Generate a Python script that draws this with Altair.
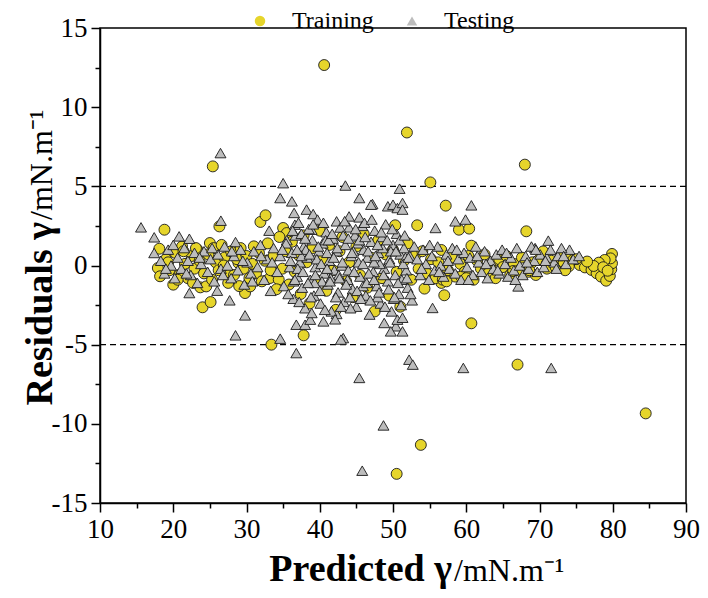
import altair as alt
import pandas as pd

# ---------------- data ----------------
train_x = [40.6, 51.9, 55.1, 68.0, 25.4, 57.2, 50.3, 53.3, 59.0, 60.4, 68.2, 60.7, 56.6, 54.3, 57.0,
           56.6, 60.7, 67.0, 79.9, 70.5, 84.5, 53.8, 50.5, 18.8, 26.3, 31.9, 32.6, 24.0, 25.1, 33.4,
           37.8, 29.8, 20.0, 17.9, 18.2, 18.1, 23.7, 24.5, 27.4, 30.5, 33.2, 34.4, 35.0, 35.5, 28.9,
           25.0, 25.5, 31.0,
           19.0, 19.5, 20.3, 20.8, 21.2, 21.6, 22.0, 22.5, 22.9, 23.3, 23.6, 24.2, 24.8, 25.3, 25.8,
           26.2, 26.6, 27.0, 27.5, 27.9, 28.3, 28.7, 29.2, 29.6, 30.0, 30.4, 30.8, 31.3, 31.7, 32.1,
           32.5, 32.9, 33.3, 33.7, 34.1, 34.5, 34.9, 35.3, 35.8, 36.2, 36.6, 37.0, 37.4, 37.8, 38.2,
           38.6, 39.0, 39.5, 40.0, 40.4, 40.9, 41.3, 41.8, 42.2, 42.7, 43.1, 43.6, 44.0, 44.5, 45.0,
           45.5, 46.0, 46.5, 47.0, 47.5, 48.0, 48.5, 49.0, 49.5, 50.0, 50.5, 51.0, 51.5, 52.0, 52.5,
           53.0, 53.5, 54.0, 54.6, 55.2, 55.8, 56.2, 57.5, 58.0, 58.5, 59.2, 59.8, 60.3, 61.0, 61.5,
           62.0, 62.5, 63.0, 63.6, 64.0, 64.5, 65.0, 65.5, 66.0, 66.5, 67.2, 67.6, 68.5, 69.0, 69.5,
           70.0, 71.0, 71.6, 72.2, 72.8, 73.3, 73.9, 74.6, 75.5, 76.2, 77.1, 77.8, 78.4, 79.1, 79.6,
           79.8, 79.9, 79.7, 78.9, 78.1, 77.4, 78.7, 79.3, 76.5, 75.0, 74.0, 73.5, 59.3, 60.0, 66.4,
           67.5, 68.6, 56.8, 57.3, 21.4, 22.7, 23.1, 26.9, 29.0, 19.3, 20.6]
train_y = [12.66, 8.4, 5.25, 6.37, 6.26, 3.78, 2.54, 2.54, 2.26, 2.33, 2.16, 1.25, 0.98, -1.46, -1.88,
           -1.1, -3.65, -6.26, 0.73, 0.89, -9.34, -11.33, -13.16, 2.26, 2.47, 2.75, 3.17, -2.64, -2.31, -5.0,
           -4.41, -1.74, -1.21, -0.16, -0.68, 1.06, -1.38, -1.32, -0.47, -1.32, -0.79, -0.89, 2.37, 2.05, 0.16,
           1.42, 1.1, 1.21,
           0.4, -0.3, 0.8, -0.6, 1.2, 0.1, -0.8, 0.6, -0.2, 1.0, 0.3, -0.5, 0.7, -0.9, 0.2,
           -0.3, 1.3, 0.5, -1.1, 0.9, -0.6, 0.4, 1.1, -0.2, 0.6, -0.8, 0.1, -0.5, 0.8, -1.0,
           0.3, 1.4, -0.3, 0.6, -1.5, 1.8, -0.2, 0.9, -1.2, 1.5, -0.4, 0.7, -1.8, 1.9, 0.2,
           -2.4, 1.1, -0.9, 2.2, 0.4, -1.6, 1.3, -0.3, -2.8, 0.9, 1.8, -1.0, 0.2, -2.0, 1.2,
           -0.6, 2.0, -1.4, 0.5, -2.9, 1.6, -0.8, 0.7, -1.9, 1.0, -0.4, -2.6, 0.3, 1.4, -0.9,
           0.6, -0.2, 0.9, -0.5, 0.4, -0.8, 0.2, -0.3, 0.5, -0.7, 0.1, -0.4, 0.6, -0.9, 0.3,
           -0.2, 0.7, -0.5, 0.2, -0.8, 0.4, -0.1, 0.6, -0.6, 0.1, -0.3, 0.5, -0.4, 0.2, -0.6,
           0.4, -0.2, 0.3, -0.1, 0.5, 0.2, 0.6, 0.35, 0.03, -0.12, -0.28, -0.49, -0.7, -0.96, -0.66,
           -0.24, 0.14, 0.45, 0.35, 0.18, -0.03, -0.11, -0.33, 0.25, 0.4, -0.05, -0.3, -0.7, -0.8, -0.35,
           -0.4, -0.3, -0.9, -1.0, 0.9, -1.1, 1.1, 0.0, -1.3, 0.2, -0.9]

test_x = [26.45, 35.0, 43.5, 50.9, 45.4, 47.2, 49.3, 50.0, 50.6, 51.3, 51.3, 60.7, 45.4, 58.5, 59.9,
          55.8, 42.3, 71.2, 74.1, 69.4, 67.1, 55.4, 42.3, 43.2, 48.8, 50.4, 51.3, 49.7, 50.6, 45.4,
          52.2, 52.7, 59.6, 71.6, 45.8, 48.7, 15.6, 17.4, 17.4, 20.8, 22.2, 26.5, 28.5, 27.7, 29.8,
          28.5, 34.6, 36.8, 42.9, 26.0, 22.2, 34.6, 36.2, 36.5, 38.2, 39.1, 33.1, 36.6, 38.9, 44.0,
          47.0, 36.8, 38.0, 38.7, 40.5,
          18.3, 18.8, 19.3, 19.7, 20.2, 20.6, 21.1, 21.5, 22.0, 22.4, 22.9, 23.3, 23.8, 24.2, 24.7,
          25.1, 25.6, 26.1, 26.5, 27.0, 27.4, 27.9, 28.3, 28.8, 29.2, 29.7, 30.1, 30.6, 31.0, 31.5,
          31.9, 32.4, 32.8, 33.3, 33.7, 34.2, 34.6, 35.1, 35.5, 35.9,
          36.2, 36.4, 36.7, 36.9, 37.1, 37.3, 37.6, 37.8, 38.0, 38.3, 38.5, 38.7, 39.0, 39.2, 39.4,
          39.7, 39.9, 40.1, 40.4, 40.6, 40.9, 41.1, 41.3, 41.6, 41.8, 42.0, 42.3, 42.5, 42.8, 43.0,
          43.3, 43.5, 43.8, 44.0, 44.3, 44.5, 44.8, 45.0, 45.3, 45.5, 45.8, 46.0, 46.3, 46.5, 46.8,
          47.0, 47.3, 47.5, 47.8, 48.0, 48.3, 48.5, 48.8, 49.0, 49.3, 49.5, 49.8, 50.0, 50.3, 50.5,
          50.8, 51.0, 51.3, 51.5, 51.8, 52.0, 52.3, 52.6, 52.9,
          37.0, 38.1, 39.6, 41.0, 42.6, 43.9, 45.2, 46.7, 48.2, 49.7, 51.2, 40.3, 44.1, 47.9, 43.2,
          46.1, 38.9, 42.1, 37.5, 39.3, 40.8, 41.5, 42.9, 44.6, 45.9, 47.4, 48.6, 50.1, 51.7, 36.4,
          35.4, 35.7, 36.0, 36.3, 36.6, 36.9, 37.2, 37.5, 37.7, 38.0, 38.4, 38.6, 38.8, 39.1, 39.4,
          39.8, 40.0, 40.2, 40.5, 40.7, 41.0, 41.2, 41.4, 41.7, 41.9, 42.2, 42.4, 42.7, 43.1, 43.4,
          43.6, 43.9, 44.2, 44.4, 44.7, 44.9, 45.1, 45.4, 45.6, 45.9, 46.2, 46.4, 46.6, 46.9, 47.1,
          47.4, 47.6, 47.9, 48.1, 48.4, 48.7, 48.9, 49.2, 49.4, 49.6, 49.9, 50.2, 50.4, 50.7, 50.9,
          51.1, 51.4, 51.6, 51.9, 52.1, 52.4,
          19.0, 20.0, 21.8, 23.6, 25.3, 26.8, 28.0, 29.5, 30.8, 32.0, 33.5, 34.9,
          53.3, 53.7, 54.1, 54.5, 54.9, 55.3, 55.7, 56.1, 56.5, 56.9, 57.3, 57.7, 58.1, 58.5, 58.9,
          59.3, 59.7, 60.1, 60.5, 60.9, 61.3, 61.7, 62.1, 62.5, 62.9, 63.3, 63.7, 64.1, 64.5, 64.9,
          65.3, 65.7, 66.1, 66.5, 66.9, 67.3, 67.7, 68.1, 68.5, 68.9, 69.3, 69.7, 70.1, 70.6, 71.0,
          71.5, 72.0, 72.5, 73.0, 73.6, 74.6, 75.4,
          53.9, 55.0, 56.3, 57.5, 58.7, 60.3, 61.5, 62.7, 64.3, 65.5, 66.7, 68.3, 69.5, 70.8, 72.3, 73.3]
test_y = [7.1, 5.2, 5.05, 4.85, 4.26, 3.88, 3.74, 3.84, 3.63, 3.95, 3.53, 3.8, 3.04, 2.79, 2.9,
          2.37, 2.79, 1.57, 1.0, 1.1, -1.32, -2.68, -3.06, -4.58, -3.63, -3.84, -4.16, -4.16, -3.42, -7.1,
          -5.95, -6.26, -6.47, -6.47, -12.96, -10.1, 2.41, 1.78, 0.79, 1.84, 1.69, 2.83, 1.48, -2.2, -3.15,
          -4.41, -4.62, -5.53, -4.68, -1.59, -1.74, 4.26, 4.05, 3.32, 3.53, 3.25, 2.2, 2.58, 2.26, 2.41,
          3.84, -3.74, -3.74, -3.42, -3.53,
          0.3, -0.5, 1.0, 0.0, -0.8, 0.5, -0.2, 1.1, 0.3, -0.6, 0.8, -1.1, 0.1, 0.9, -0.4,
          0.4, -1.0, 0.7, -0.2, 1.2, 0.0, -0.8, 0.6, -0.3, 1.0, -1.2, 0.2, -0.5, 0.9, -0.1,
          1.3, -0.9, 0.4, -1.6, 1.1, -0.4, 0.6, -1.3, 1.6, -0.1,
          0.8, -2.1, 1.9, -0.7, 2.7, 0.2, -1.4, 1.2, -2.7, 0.5, 2.3, -0.9, 1.6, -1.9, -0.1,
          2.9, 0.9, -2.4, 1.4, -0.5, 2.1, -1.2, 0.3, -2.9, 1.7, -0.3, 0.9, -1.7, 2.4, 0.0,
          -2.3, 1.3, -0.9, 3.1, 0.6, -1.5, 1.9, -2.6, 0.2, -0.7, 2.5, 1.0, -1.9, 0.5, -3.1,
          1.5, -0.4, 2.2, -1.3, 0.8, -2.4, 1.8, -0.2, 2.6, -1.0, 0.4, -2.9, 1.3, -0.6, 2.0,
          -1.8, 0.7, -3.3, 1.1, -0.3, -1.4, 0.6, -2.2, 1.2,
          -0.2, 1.0, 0.4, 0.8, -0.6, -0.3, 1.4, -0.5, 0.1, 0.9, -0.9, -1.0, -2.0, -2.0, 1.9,
          2.7, -3.0, -3.4, 0.6, -1.1, 1.6, -0.8, -2.6, 0.9, -1.3, 0.2, 1.1, -2.1, 0.5, -1.0,
          1.4, -1.8, 0.3, 2.2, -0.9, 1.0, -2.3, 2.0, -0.4, 1.7, -1.1, 0.7, -2.0, 2.6, -0.6,
          1.2, -1.6, 0.1, 2.7, -2.8, -0.2, 1.6, -1.0, 2.0, 0.5, -2.0, 1.1, -0.8, 0.2, 2.8,
          -1.2, 1.7, -2.7, 0.8, -0.4, 2.3, -1.6, 1.6, -2.1, 0.1, 1.8, -1.1, 0.9, -2.2, 2.9,
          -0.9, 0.6, 1.3, -1.7, 2.1, -0.6, -2.6, 1.6, -1.5, 0.2, 2.3, -2.0, 0.9, -1.1, 1.6,
          -2.5, 0.1, 1.9, -0.8, 0.5, -1.8,
          -0.2, 1.3, -0.5, 0.5, 1.1, -0.6, 0.9, 0.3, -1.0, 0.6, 0.2, 1.0,
          0.4, -0.6, 1.0, 0.1, -0.9, 0.6, -0.3, 1.2, 0.0, -0.7, 0.7, -0.2, 1.1, -0.5, 0.4,
          -0.9, 0.8, -0.1, 0.5, -0.6, 1.2, 0.2, -0.4, 0.9, -0.8, 0.3, -0.2, 0.7, -0.5, 1.0,
          0.1, -0.7, 0.5, -0.3, 1.1, 0.0, -0.6, 0.6, -0.2, 1.2, 0.3, -0.4, 0.7, -0.1, 0.5,
          1.0, 0.2, 0.6, 1.1, 0.1, 0.4, 0.6,
          -0.2, 1.3, -0.4, 0.3, 1.0, -0.9, 0.6, 0.1, -0.3, 0.8, -0.9, 0.2, 1.0, 0.3, -0.2, 0.6]

series_names = ["Training", "Testing"]
series_fill = ["#E6D52B", "#BDBDBD"]
series_shape = ["circle", "triangle-up"]
limit_lines = [5, -5]

x_ticks = [10, 15, 20, 25, 30, 35, 40, 45, 50, 55, 60, 65, 70, 75, 80, 85, 90]
y_ticks = [-15, -12.5, -10, -7.5, -5, -2.5, 0, 2.5, 5, 7.5, 10, 12.5, 15]

x_title_bold, x_title_rest = "Predicted γ", "/mN.m⁻¹"
y_title_bold, y_title_rest = "Residuals γ", "/mN.m⁻¹"

# ---------------- build tables ----------------
df = pd.concat([
    pd.DataFrame({"x": train_x, "y": train_y, "series": "Training"}),
    pd.DataFrame({"x": test_x, "y": test_y, "series": "Testing"}),
], ignore_index=True)
df["order"] = range(len(df))

FONT = "Liberation Serif"

x_scale = alt.Scale(domain=[10, 90], nice=False, zero=False)
y_scale = alt.Scale(domain=[-15, 15], nice=False, zero=False)

axis_common = dict(
    title=None, grid=False, domainColor="black", domainWidth=1.5,
    tickColor="black", tickWidth=1.5, labelFont=FONT, labelFontSize=27,
    labelColor="black", labelPadding=4, labelFlush=False,
)

x_axis = alt.Axis(
    values=x_ticks,
    labelExpr="datum.value % 10 === 0 ? '' + datum.value : ''",
    tickSize={"condition": {"test": "datum.value % 10 === 0", "value": 9}, "value": 5},
    **axis_common,
)
y_axis = alt.Axis(
    values=y_ticks,
    labelExpr="datum.value % 5 === 0 ? '' + datum.value : ''",
    tickSize={"condition": {"test": "datum.value % 5 === 0", "value": 9}, "value": 5},
    **axis_common,
)

legend = alt.Legend(
    orient="none", legendX=148, legendY=-19, direction="horizontal",
    title=None, labelFont=FONT, labelFontSize=24, labelColor="black",
    labelOffset=20, columnPadding=26, symbolSize=110,
    symbolStrokeColor="#1a1a1a", symbolStrokeWidth=0.9, padding=0)

rules = alt.Chart(pd.DataFrame({"y": limit_lines})).mark_rule(
    color="black", strokeWidth=1.2, strokeDash=[6, 4]
).encode(y=alt.Y("y:Q", scale=y_scale, axis=y_axis))

points = alt.Chart(df).mark_point(
    filled=True, opacity=1, stroke="#1a1a1a", strokeWidth=0.9, size=120
).encode(
    x=alt.X("x:Q", scale=x_scale, axis=x_axis),
    y=alt.Y("y:Q", scale=y_scale, axis=y_axis),
    fill=alt.Fill("series:N", scale=alt.Scale(domain=series_names, range=series_fill),
                  legend=legend),
    shape=alt.Shape("series:N", scale=alt.Scale(domain=series_names, range=series_shape),
                    legend=legend),
    order=alt.Order("order:Q"),
)

def title_text(txt, bold, align, x, y, angle=0, size=34):
    return alt.Chart(pd.DataFrame({"t": [txt]})).mark_text(
        font=FONT, fontSize=size, fontWeight="bold" if bold else "normal",
        align=align, baseline="alphabetic", angle=angle, color="black",
    ).encode(text="t:N", x=alt.value(x), y=alt.value(y))

xt1 = title_text(x_title_bold, True, "right", 352, 553, size=38)
xt2 = title_text(x_title_rest, False, "left", 354, 553, size=32)
yt1 = title_text(y_title_bold, True, "right", -48, 194, angle=270, size=38)
yt2 = title_text(y_title_rest, False, "left", -48, 192, angle=270, size=32)

chart = alt.layer(rules, points, xt1, xt2, yt1, yt2).properties(
    width=586, height=475,
    padding={"left": 92, "top": 20, "right": 14, "bottom": 87},
    autosize=alt.AutoSizeParams(type="none"),
).configure_view(stroke="black", strokeWidth=1.5)

chart.save("out.html", embed_options={"renderer": "svg", "actions": False})
